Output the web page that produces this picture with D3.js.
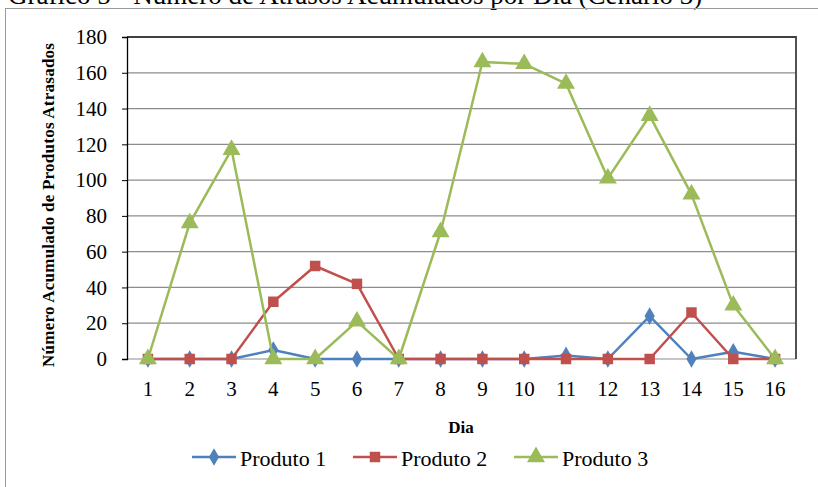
<!DOCTYPE html>
<html><head><meta charset="utf-8">
<script src="https://cdn.jsdelivr.net/npm/d3@7"></script>
<style>body{margin:0;background:#fff}svg{display:block}</style>
</head><body>
<svg id="c" width="818" height="487"></svg>
<script>
const days = ["1","2","3","4","5","6","7","8","9","10","11","12","13","14","15","16"];
const produto1 = [0,0,0,5,0,0,0,0,0,0,2,0,24,0,4,0];
const produto2 = [0,0,0,32,52,42,0,0,0,0,0,0,0,26,0,0];
const produto3 = [0,76,117,0,0,21,0,71,166,165,154,101,136,92,30,0];
const yTicks = [0,20,40,60,80,100,120,140,160,180];
const seriesNames = ["Produto 1","Produto 2","Produto 3"];
const seriesColors = ["#4F81BD","#C0504D","#9BBB59"];
const seriesSymbols = [d3.symbolDiamond, d3.symbolSquare, d3.symbolTriangle];
const seriesData = [produto1, produto2, produto3];

const svg = d3.select("#c");
const font = "'Liberation Serif','Times New Roman',serif";

// title (cut off at top, as in the reference)
svg.append("text").attr("x",8).attr("y",4).attr("font-family",font).attr("font-size",27)
  .attr("fill","#000").text("Gráfico 5 - Número de Atrasos Acumulados por Dia (Cenário 3)");

// outer frame
svg.append("rect").attr("x",5.5).attr("y",8.5).attr("width",830).attr("height",500)
  .attr("fill","none").attr("stroke","#9a9a9a").attr("stroke-width",1);

const L=127, R=796, T=37, B=359;
const x = d3.scaleBand().domain(days).range([L,R]);
const y = d3.scaleLinear().domain([0,180]).range([B,T]);

// gridlines
svg.append("g").selectAll("line").data(yTicks.slice(1,-1)).join("line")
  .attr("x1",L).attr("x2",R).attr("y1",d=>y(d)).attr("y2",d=>y(d))
  .attr("stroke","#8c8c8c").attr("stroke-width",1.2);
svg.append("line").attr("x1",L).attr("x2",R).attr("y1",B).attr("y2",B).attr("stroke","#8c8c8c").attr("stroke-width",1.2);
svg.append("path").attr("d",`M${L},${T}H${R}V${B}`).attr("fill","none").attr("stroke","#404040").attr("stroke-width",1.8);

// y axis
const yAxis = d3.axisLeft(y).tickValues(yTicks).tickSize(5).tickPadding(15);
const gy = svg.append("g").attr("transform",`translate(${L},0)`).call(yAxis);
gy.select(".domain").attr("stroke","#000").attr("stroke-width",1.3);
gy.selectAll(".tick line").attr("stroke","#000");
gy.selectAll("text").attr("font-family",font).attr("font-size",21).attr("fill","#000");

// x axis
const xAxis = d3.axisBottom(x).tickSize(0).tickPadding(22);
const gx = svg.append("g").attr("transform",`translate(0,${B})`).call(xAxis);
gx.select(".domain").remove();
gx.selectAll("text").attr("font-family",font).attr("font-size",21).attr("fill","#000");

// axis titles
svg.append("text").attr("transform",`translate(54,205) rotate(-90)`).attr("text-anchor","middle")
  .attr("font-family",font).attr("font-size",17).attr("font-weight","bold")
  .attr("textLength",324).attr("lengthAdjust","spacing")
  .text("Número Acumulado de Produtos Atrasados");
svg.append("text").attr("x",461).attr("y",433).attr("text-anchor","middle")
  .attr("font-family",font).attr("font-size",17).attr("font-weight","bold").text("Dia");

// series
const line = d3.line().x((d,i)=>x(days[i])+x.bandwidth()/2).y(d=>y(d));
const symSizes = [90,110,140];
seriesData.forEach((data,k)=>{
  const g = svg.append("g");
  g.append("path").datum(data).attr("d",line).attr("fill","none")
    .attr("stroke",seriesColors[k]).attr("stroke-width",2.5).attr("stroke-linejoin","round");
  g.selectAll("path.m").data(data).join("path").attr("class","m")
    .attr("transform",(d,i)=>`translate(${x(days[i])+x.bandwidth()/2},${y(d)})`)
    .attr("d",d3.symbol().type(seriesSymbols[k]).size(symSizes[k]))
    .attr("fill",seriesColors[k]);
});

// legend
const legX = [192,353,514];
const legY = 457;
seriesNames.forEach((n,k)=>{
  const g = svg.append("g");
  g.append("line").attr("x1",legX[k]).attr("x2",legX[k]+44).attr("y1",legY).attr("y2",legY)
    .attr("stroke",seriesColors[k]).attr("stroke-width",2.5);
  g.append("path").attr("transform",`translate(${legX[k]+22},${legY})`)
    .attr("d",d3.symbol().type(seriesSymbols[k]).size(symSizes[k])).attr("fill",seriesColors[k]);
  g.append("text").attr("x",legX[k]+48).attr("y",legY+9).attr("font-family",font).attr("font-size",22)
    .attr("fill","#000").text(n);
});
</script>
</body></html>
